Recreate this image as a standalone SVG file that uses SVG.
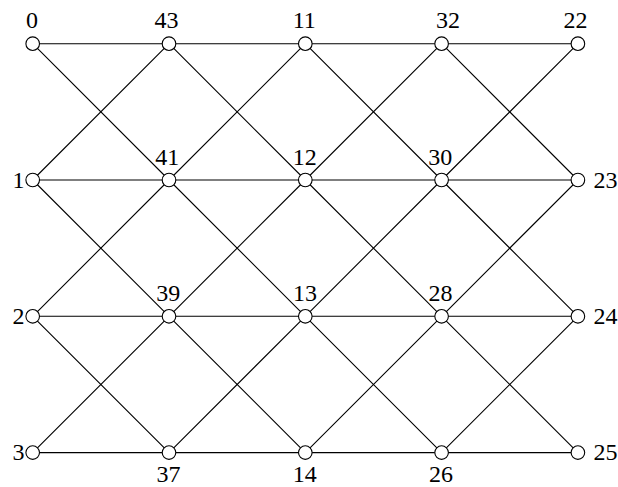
<svg xmlns="http://www.w3.org/2000/svg" width="618" height="487" viewBox="0 0 618 487">
<style>
.e{stroke:#000;stroke-width:1.1;fill:none}
.n circle{fill:#fff;stroke:#000;stroke-width:1.1}
.n text{font-family:"Liberation Serif","Times New Roman",serif;font-size:24px;fill:#000}
.t{text-anchor:middle}
.l{text-anchor:end}
.r{text-anchor:start}
</style>
<rect width="618" height="487" fill="#fff"/>
<g id="connectors" class="e">
<path d="M32.7 43.7H577.9M32.7 180H577.9M32.7 316.3H577.9M32.7 452.6H577.9"/>
<path d="M32.7 43.7L169 180M169 43.7L305.3 180M305.3 43.7L441.6 180M441.6 43.7L577.9 180"/>
<path d="M32.7 180L169 316.3M169 180L305.3 316.3M305.3 180L441.6 316.3M441.6 180L577.9 316.3"/>
<path d="M32.7 316.3L169 452.6M169 316.3L305.3 452.6M305.3 316.3L441.6 452.6M441.6 316.3L577.9 452.6"/>
<path d="M32.7 180L169 43.7M169 180L305.3 43.7M305.3 180L441.6 43.7M441.6 180L577.9 43.7"/>
<path d="M32.7 316.3L169 180M169 316.3L305.3 180M305.3 316.3L441.6 180M441.6 316.3L577.9 180"/>
<path d="M32.7 452.6L169 316.3M169 452.6L305.3 316.3M305.3 452.6L441.6 316.3M441.6 452.6L577.9 316.3"/>
</g>
<g id="n0" class="n"><circle cx="32.7" cy="43.7" r="6.8"/><text class="t" x="32" y="28.3">0</text></g>
<g id="n43" class="n"><circle cx="169" cy="43.7" r="6.8"/><text class="t" x="166.5" y="28.3">43</text></g>
<g id="n11" class="n"><circle cx="305.3" cy="43.7" r="6.8"/><text class="t" x="304.2" y="28.3">11</text></g>
<g id="n32" class="n"><circle cx="441.6" cy="43.7" r="6.8"/><text class="t" x="448" y="28.3">32</text></g>
<g id="n22" class="n"><circle cx="577.9" cy="43.7" r="6.8"/><text class="t" x="575.5" y="28.3">22</text></g>

<g id="n1" class="n"><circle cx="32.7" cy="180" r="6.8"/><text class="l" x="24.5" y="187.5">1</text></g>
<g id="n41" class="n"><circle cx="169" cy="180" r="6.8"/><text class="t" x="167.2" y="165">41</text></g>
<g id="n12" class="n"><circle cx="305.3" cy="180" r="6.8"/><text class="t" x="304.8" y="165">12</text></g>
<g id="n30" class="n"><circle cx="441.6" cy="180" r="6.8"/><text class="t" x="440.2" y="165">30</text></g>
<g id="n23" class="n"><circle cx="577.9" cy="180" r="6.8"/><text class="r" x="593.5" y="187.5">23</text></g>

<g id="n2" class="n"><circle cx="32.7" cy="316.3" r="6.8"/><text class="l" x="24.5" y="323.8">2</text></g>
<g id="n39" class="n"><circle cx="169" cy="316.3" r="6.8"/><text class="t" x="168.3" y="300.8">39</text></g>
<g id="n13" class="n"><circle cx="305.3" cy="316.3" r="6.8"/><text class="t" x="305" y="300.8">13</text></g>
<g id="n28" class="n"><circle cx="441.6" cy="316.3" r="6.8"/><text class="t" x="440.6" y="300.8">28</text></g>
<g id="n24" class="n"><circle cx="577.9" cy="316.3" r="6.8"/><text class="r" x="593.5" y="323.8">24</text></g>

<g id="n3" class="n"><circle cx="32.7" cy="452.6" r="6.8"/><text class="l" x="24.5" y="460">3</text></g>
<g id="n37" class="n"><circle cx="169" cy="452.6" r="6.8"/><text class="t" x="168.5" y="481.5">37</text></g>
<g id="n14" class="n"><circle cx="305.3" cy="452.6" r="6.8"/><text class="t" x="304.8" y="481.5">14</text></g>
<g id="n26" class="n"><circle cx="441.6" cy="452.6" r="6.8"/><text class="t" x="441.1" y="481.5">26</text></g>
<g id="n25" class="n"><circle cx="577.9" cy="452.6" r="6.8"/><text class="r" x="593.5" y="460">25</text></g>
</svg>
